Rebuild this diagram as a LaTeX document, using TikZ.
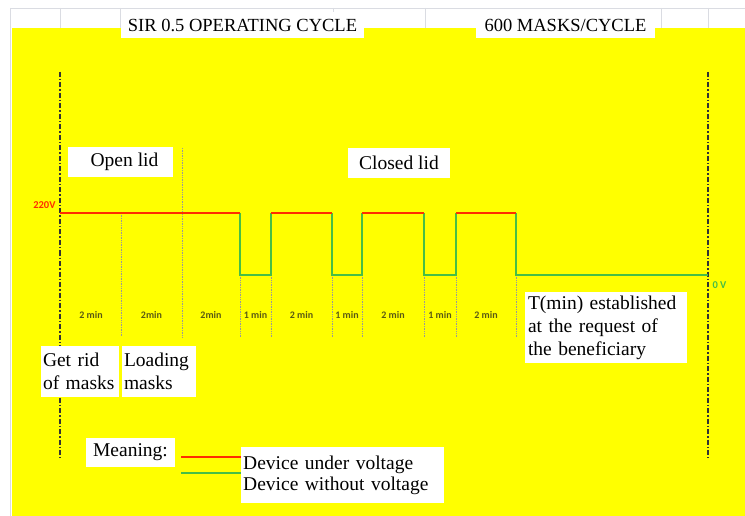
\documentclass[tikz,border=0pt]{standalone}
\usepackage{fontspec}
\setmainfont{Liberation Serif}
\newfontfamily\minfont{Carlito}

\definecolor{sheet}{RGB}{255,255,0}
\definecolor{gridgray}{RGB}{218,220,226}
\definecolor{volt}{RGB}{255,45,0}
\definecolor{novolt}{RGB}{70,190,70}
\definecolor{olivetxt}{RGB}{90,90,20}
\def\txt{\fontsize{19.5}{23}\selectfont}
\def\ttl{\fontsize{18.5}{20}\selectfont}
\tikzstyle{labelbox}=[fill=white, inner xsep=2pt, inner ysep=3pt, font=\txt, align=left]
\tikzstyle{powered}=[volt, line width=2.8pt]
\tikzstyle{unpowered}=[novolt, line width=2.8pt]
\tikzstyle{bound}=[black!80, line width=1.6pt,
                   dash pattern=on 5pt off 2pt on 1.5pt off 2pt]
\tikzstyle{split}=[black!40, line width=0.7pt, densely dotted]
\tikzstyle{span}=[text=olivetxt, font=\minfont\bfseries\fontsize{10}{11}\selectfont]

\begin{document}
\begin{tikzpicture}[x=1pt, y=-1pt]
  \useasboundingbox (0,0) rectangle (745,516);
  \fill[white] (0,0) rectangle (745,516);
  \fill[sheet] (12,28) rectangle (745,516);
  \draw[gridgray] (10,8) -- (745,8);
  \draw[gridgray] (10,8) -- (10,516);
  \draw[gridgray] (60,8) -- (60,28) (120,8) -- (120,28) (333,8) -- (333,28)
                  (425,8) -- (425,28) (661,8) -- (661,28) (708,8) -- (708,28);

  \node[labelbox, font=\ttl, minimum width=243pt, minimum height=26pt] (title) at (242.5,25) {SIR 0.5 OPERATING CYCLE};
  \node[labelbox, font=\ttl, minimum width=179pt, minimum height=26pt] (masks) at (565.5,25) {600 MASKS/CYCLE};

  % time marks
  \coordinate (h0) at (60,213);
  \coordinate (h2) at (121,213);
  \coordinate (h4) at (182,213);
  \coordinate (h6) at (240,213);
  \coordinate (l6) at (240,275);
  \coordinate (l7) at (271,275);
  \coordinate (h7) at (271,213);
  \coordinate (h9) at (332,213);
  \coordinate (l9) at (332,275);
  \coordinate (l10) at (362,275);
  \coordinate (h10) at (362,213);
  \coordinate (h12) at (424,213);
  \coordinate (l12) at (424,275);
  \coordinate (l13) at (456,275);
  \coordinate (h13) at (456,213);
  \coordinate (h15) at (516,213);
  \coordinate (l15) at (516,275);
  \coordinate (zero) at (708,275);
  \coordinate (base) at (0,337);
  \coordinate (lidtop) at (182,148);

  \draw[split] (h2) -- (h2 |- base);
  \draw[split] (lidtop) -- (lidtop |- base);
  \draw[split] (l6) -- (l6 |- base);
  \draw[split] (l7) -- (l7 |- base);
  \draw[split] (l9) -- (l9 |- base);
  \draw[split] (l10) -- (l10 |- base);
  \draw[split] (l12) -- (l12 |- base);
  \draw[split] (l13) -- (l13 |- base);
  \draw[split] (l15) -- (l15 |- base);

  % start and end of the cycle
  \coordinate (st) at (60,72);
  \coordinate (sb) at (60,458);
  \coordinate (et) at (708,72);
  \coordinate (eb) at (708,458);
  \draw[bound] (st) -- (sb);
  \draw[bound] (et) -- (eb);

  % voltage
  \draw[unpowered] (h6) -- (l6) -- (l7) -- (h7);
  \draw[unpowered] (h9) -- (l9) -- (l10) -- (h10);
  \draw[unpowered] (h12) -- (l12) -- (l13) -- (h13);
  \draw[unpowered] (h15) -- (l15) -- (zero);
  \draw[powered] (h0) -- (h6);
  \draw[powered] (h7) -- (h9);
  \draw[powered] (h10) -- (h12);
  \draw[powered] (h13) -- (h15);

  \node[anchor=east, text=volt, font=\minfont\bfseries\fontsize{10.5}{11}\selectfont] (v220) at (59,205) {220V};
  \node[anchor=west, text=novolt, font=\minfont\bfseries\fontsize{10.5}{11}\selectfont] (v0) at (709,285) {0 V};

  \node[span] (m1) at (91,315) {2 min};
  \node[span] (m2) at (151.5,315) {2min};
  \node[span] (m3) at (211,315) {2min};
  \node[span] (m4) at (255.5,315) {1 min};
  \node[span] (m5) at (301.5,315) {2 min};
  \node[span] (m6) at (347,315) {1 min};
  \node[span] (m7) at (393,315) {2 min};
  \node[span] (m8) at (440,315) {1 min};
  \node[span] (m9) at (486,315) {2 min};

  \node[labelbox, minimum width=105pt, minimum height=30pt, align=center] (open) at (120.5,162) {\hspace*{8pt}Open lid};
  \node[labelbox, minimum width=102pt, minimum height=30pt, align=center] (closed) at (399,163) {Closed lid};

  \node[labelbox, text width=74pt, minimum height=51pt] (rid) at (80,371.5) {Get rid\\of masks};
  \node[labelbox, text width=70pt, minimum height=51pt] (load) at (159,371.5) {Loading\\masks};
  \node[labelbox, text width=156pt, inner xsep=3pt, minimum height=71pt] (tmin) at (606,327.5)
       {T(min) established\\at the request of\\the beneficiary};

  % legend
  \node[labelbox, minimum width=89pt, minimum height=29pt, align=center] (meaning) at (130.5,452.5) {Meaning:};
  \node[labelbox, text width=199pt, minimum height=56pt, anchor=north west, inner ysep=1pt,
        font=\fontsize{19.5}{21}\selectfont] (keys) at (241,447) {Device under voltage\\Device without voltage};
  \coordinate (ra) at (181,457);
  \coordinate (rb) at (241,457);
  \coordinate (ga) at (181,473);
  \coordinate (gb) at (241,473);
  \draw[volt, line width=2pt] (ra) -- (rb);
  \draw[novolt, line width=2pt] (ga) -- (gb);
\end{tikzpicture}
\end{document}
